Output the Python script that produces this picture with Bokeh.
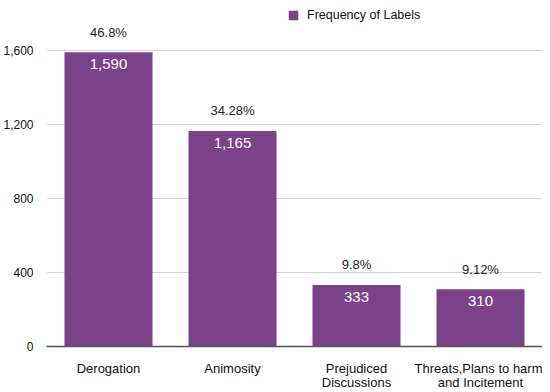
from bokeh.plotting import figure
from bokeh.models import (ColumnDataSource, NumeralTickFormatter, FixedTicker, Legend, LegendItem,
                          Range1d, LinearAxis)
from bokeh.embed import file_html
from bokeh.resources import INLINE
from bokeh.core.properties import value

categories = ["Derogation", "Animosity", "Prejudiced Discussions", "Threats,Plans to harm and Incitement"]
label_line1 = ["Derogation", "Animosity", "Prejudiced", "Threats,Plans to harm"]
label_line2 = ["", "", "Discussions", "and Incitement"]
counts = [1590, 1165, 333, 310]
percents = ["46.8%", "34.28%", "9.8%", "9.12%"]
y_ticks = [0, 400, 800, 1200, 1600]

FONT = "Liberation Sans"
PURPLE = "#7B428A"

pos = list(range(len(categories)))
src = ColumnDataSource(dict(
    x=pos,
    cat=categories,
    count=counts,
    count_label=[f"{c:,}" for c in counts],
    pct=percents,
))

p = figure(
    x_range=Range1d(-0.5, len(categories) - 0.5),
    y_range=Range1d(0, 1870),
    width=542, height=392,
    output_backend="svg", toolbar_location=None,
    min_border_left=46, min_border_right=0, min_border_top=0, min_border_bottom=46,
)
p.outline_line_color = None
p.background_fill_color = "white"

r = p.vbar(x="x", top="count", width=0.71, source=src, fill_color=PURPLE, line_color=None)

p.text(x="x", y="count", text="pct", source=src, text_align="center", text_baseline="middle",
       y_offset=-20, text_font=value(FONT), text_font_size="13px", text_color="#222222")
p.text(x="x", y="count", text="count_label", source=src, text_align="center", text_baseline="middle",
       y_offset=12, text_font=value(FONT), text_font_size="15px", text_color="white")

# y axis
p.yaxis.ticker = FixedTicker(ticks=y_ticks)
p.yaxis.formatter = NumeralTickFormatter(format="0,0")
p.yaxis.axis_line_color = None
p.yaxis.major_tick_line_color = None
p.yaxis.major_tick_out = 0
p.yaxis.major_tick_in = 0
p.yaxis.minor_tick_line_color = None
p.yaxis.major_label_text_font = FONT
p.yaxis.major_label_text_font_size = "12px"
p.yaxis.major_label_text_color = "#111111"
p.yaxis.major_label_standoff = 13

# x axis (first label line)
p.xaxis.ticker = FixedTicker(ticks=pos)
p.xaxis.major_label_overrides = {i: t for i, t in zip(pos, label_line1)}
p.xaxis.axis_line_color = "#555555"
p.xaxis.axis_line_width = 1.5
p.xaxis.major_tick_line_color = None
p.xaxis.major_tick_out = 0
p.xaxis.major_tick_in = 0
p.xaxis.minor_tick_line_color = None
p.xaxis.major_label_text_font = FONT
p.xaxis.major_label_text_font_size = "13px"
p.xaxis.major_label_text_color = "#111111"
p.xaxis.major_label_standoff = 14

# second label line
pos2 = [i for i, t in zip(pos, label_line2) if t]
ax2 = LinearAxis(
    ticker=FixedTicker(ticks=pos2),
    major_label_overrides={i: label_line2[i] for i in pos2},
    axis_line_color=None, major_tick_line_color=None, minor_tick_line_color=None,
    major_tick_out=0, major_tick_in=0, major_label_standoff=-4,
    major_label_text_font=FONT, major_label_text_font_size="13px",
    major_label_text_color="#111111",
)
p.add_layout(ax2, "below")

p.xgrid.grid_line_color = None
p.ygrid.grid_line_color = "#d4d4d4"
p.ygrid.grid_line_width = 1

legend = Legend(items=[LegendItem(label="Frequency of Labels", renderers=[r])],
                location=(241, 324), orientation="horizontal")
legend.margin = 0
legend.padding = 0
legend.spacing = 0
legend.border_line_color = None
legend.background_fill_alpha = 0
legend.glyph_width = 12
legend.glyph_height = 12
legend.label_height = 12
legend.label_standoff = 8
legend.label_text_font = FONT
legend.label_text_font_size = "12.5px"
legend.label_text_color = "#111111"
legend.label_text_baseline = "middle"
p.add_layout(legend)

open("out.html", "w").write(file_html(p, INLINE))
